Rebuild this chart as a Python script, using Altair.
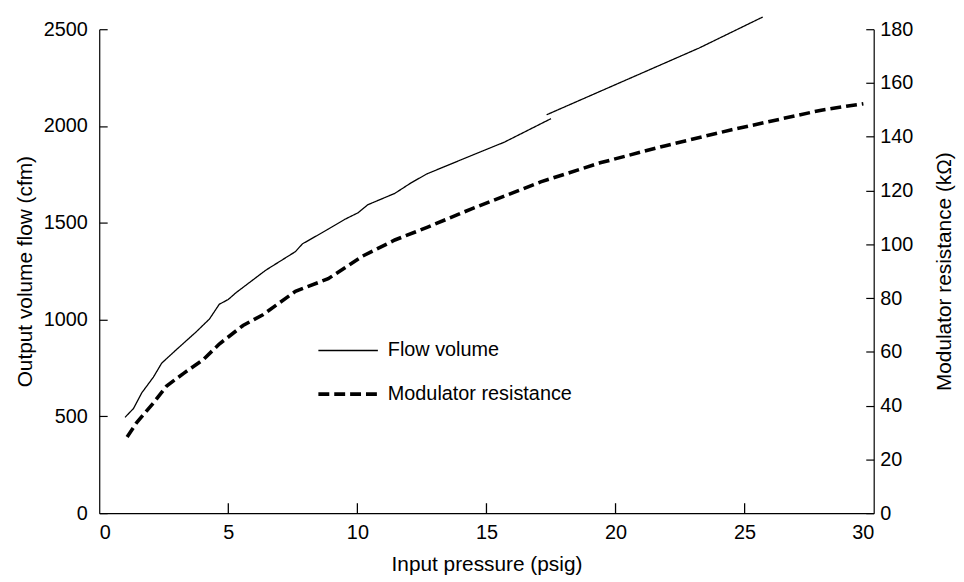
import altair as alt
import pandas as pd

# ---- data ----
series_labels = ["Flow volume", "Modulator resistance"]

# flow volume (cfm), first trace segment
pressure_flow_1 = [1.0, 1.33, 1.65, 2.1, 2.42, 3.0, 3.76, 4.27, 4.65, 5.0, 5.3, 6.45,
                   7.6, 7.87, 8.87, 9.5, 10.03, 10.4, 11.45, 12.1, 12.7, 14.5, 15.7, 17.5]
flow_1 = [495, 541, 622, 703, 775, 846, 937, 1003, 1079, 1104, 1139, 1255,
          1351, 1391, 1467, 1517, 1552, 1593, 1652, 1708, 1753, 1852, 1917, 2038]
# flow volume (cfm), second trace segment
pressure_flow_2 = [17.33, 20.67, 23.24, 25.7]
flow_2 = [2058, 2253, 2403, 2563]

# modulator resistance (kOhm)
pressure_res = [1.08, 1.46, 2.11, 2.61, 3.27, 4.03, 4.65, 5.57, 6.34, 7.6, 8.87, 10.18,
                11.45, 12.7, 14.4, 17.1, 19.4, 21.9, 24.5, 27.97, 29.6]
resistance = [28.3, 33.8, 41.1, 47.3, 52.0, 57.1, 62.9, 69.8, 73.8, 82.5, 87.2, 95.5,
              101.6, 106.3, 113.1, 123.2, 130.3, 136.6, 142.6, 149.9, 152.3]

x_ticks = [0, 5, 10, 15, 20, 25, 30]
left_ticks = [0, 500, 1000, 1500, 2000, 2500]
right_ticks = [0, 20, 40, 60, 80, 100, 120, 140, 160, 180]

flow_df = pd.DataFrame({
    "pressure": pressure_flow_1 + pressure_flow_2,
    "flow": flow_1 + flow_2,
    "segment": [1] * len(pressure_flow_1) + [2] * len(pressure_flow_2),
    "series": series_labels[0],
})
res_df = pd.DataFrame({
    "pressure": pressure_res,
    "resistance": resistance,
    "series": series_labels[1],
})
xtick_df = pd.DataFrame({"pressure": x_ticks[1:-1]})

FONT = "Liberation Sans"
W, H = 781, 488

dash_scale = alt.Scale(domain=series_labels, range=[[1, 0], [11, 5]])
width_scale = alt.Scale(domain=series_labels, range=[1.3, 3.6])
legend = alt.Legend(
    title=None, orient="none", legendX=234, legendY=308,
    symbolType="M-2,0H2", symbolSize=900, symbolStrokeColor="black",
    symbolFillColor="black",
    labelFont=FONT, labelFontSize=20, labelColor="black", labelOffset=23,
    labelLimit=0, rowPadding=17,
)

x_scale = alt.Scale(domain=[0, 30], nice=False)
x_axis = alt.Axis(
    title="Input pressure (psig)", values=x_ticks, labelPadding=10,
    titlePadding=11, grid=False,
)

flow_line = alt.Chart(flow_df).mark_line(color="black", clip=False).encode(
    x=alt.X("pressure:Q", scale=x_scale, axis=x_axis),
    y=alt.Y(
        "flow:Q",
        scale=alt.Scale(domain=[0, 2500], nice=False),
        axis=alt.Axis(
            orient="left", title="Output volume flow (cfm)", values=left_ticks,
            format="d", labelPadding=12, titlePadding=8, grid=True, gridDash=[8, W],
        ),
    ),
    detail="segment:N",
    strokeDash=alt.StrokeDash("series:N", scale=dash_scale, legend=legend),
    strokeWidth=alt.StrokeWidth("series:N", scale=width_scale, legend=legend),
)

res_line = alt.Chart(res_df).mark_line(color="black", clip=False).encode(
    x=alt.X("pressure:Q", scale=x_scale, axis=None),
    y=alt.Y(
        "resistance:Q",
        scale=alt.Scale(domain=[0, 180], nice=False),
        axis=alt.Axis(
            orient="right", title="Modulator resistance (k\u03a9)", values=right_ticks,
            format="d", labelPadding=6, titlePadding=42, titleAngle=270,
            grid=True, gridDash=[8, W],
        ),
    ),
    strokeDash=alt.StrokeDash("series:N", scale=dash_scale, legend=legend),
    strokeWidth=alt.StrokeWidth("series:N", scale=width_scale, legend=legend),
)

# inward tick marks on the x axis
x_tick_marks = alt.Chart(xtick_df).mark_rule(color="black", strokeWidth=1.3).encode(
    x=alt.X("pressure:Q", scale=x_scale, axis=None),
    y=alt.value(H),
    y2=alt.value(H - 10),
)

chart = (
    alt.layer(flow_line, res_line, x_tick_marks)
    .resolve_scale(y="independent")
    .resolve_axis(x="independent")
    .properties(
        width=W, height=H,
        autosize=alt.AutoSizeParams(type="none"),
        padding={"left": 92, "top": 19, "right": 83, "bottom": 62},
        background="white",
    )
    .configure_view(stroke=None)
    .configure_axis(
        domainColor="black", domainWidth=1.2, ticks=False,
        gridColor="black", gridWidth=1.2, gridOpacity=1,
        labelFont=FONT, labelFontSize=20, labelColor="black",
        titleFont=FONT, titleFontSize=21, titleFontWeight="normal", titleColor="black",
    )
)

chart.save("out.html", embed_options={"renderer": "svg", "actions": False})
